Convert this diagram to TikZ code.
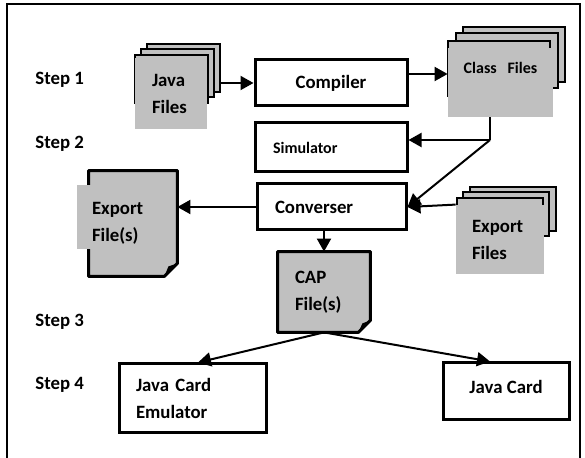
\documentclass[tikz,border=0pt]{standalone}
\usepackage{fontspec}
\setmainfont{Carlito}
\usetikzlibrary{arrows.meta}
\definecolor{sheetgray}{RGB}{192,192,192}
\newcommand{\bigtxt}{\fontsize{9.4}{13.5}\selectfont\bfseries}
\newcommand{\smalltxt}{\fontsize{8}{10}\selectfont\bfseries}
\tikzset{
  stagebox/.style={draw, line width=1.5pt, inner ysep=0pt, font=\bigtxt},
  page/.style={draw, fill=sheetgray, line width=1pt, inner sep=0pt},
  face/.style={fill=sheetgray, inner ysep=0pt, align=left, font=\bigtxt},
  docline/.style={line width=1.5pt, line join=round},
  arr/.style={-{Triangle[length=6.5pt,width=7pt]}, line width=1pt},
  link/.style={line width=1pt},
  steplabel/.style={anchor=base west, inner sep=0pt, font=\bigtxt},
}
\begin{document}
\begin{tikzpicture}[x=0.5pt, y=-0.5pt]
  \useasboundingbox (0,0) rectangle (585,458);
  \draw[line width=1.2pt] (7,470) -- (7,4) -- (580,4) -- (580,470);
  % steps
  \node[steplabel] (s1) at (35,85) {Step 1};
  \node[steplabel] (s2) at (35,149) {Step 2};
  \node[steplabel] (s3) at (35,327) {Step 3};
  \node[steplabel] (s4) at (35,390) {Step 4};
  % java files
  \node[page, minimum width=36.5pt, minimum height=24pt] (jf3) at (183.5,68) {};
  \node[page, minimum width=36.5pt, minimum height=24pt] (jf2) at (177.5,73.5) {};
  \node[page, minimum width=36.5pt, minimum height=24pt] (jf1) at (171.5,79) {};
  \node[face, text width=19pt, inner xsep=8.5pt, minimum height=35.5pt] (jf) at (171,93.5) {Java\\Files};
  % class files
  \node[page, minimum width=51pt, minimum height=27.5pt] (cf3) at (514,54.5) {};
  \node[page, minimum width=51pt, minimum height=27.5pt] (cf2) at (506.5,60.5) {};
  \node[page, minimum width=51pt, minimum height=27.5pt] (cf1) at (499,68.5) {};
  \node[face, font=\smalltxt, inner xsep=0pt, minimum width=52.5pt, minimum height=34.5pt,
    text height=6pt, text depth=15.3pt] (cf) at (500.5,82.5) {Class~~~Files};
  % export files
  \node[page, minimum width=43pt, minimum height=22pt] (ex3) at (513,209) {};
  \node[page, minimum width=43pt, minimum height=22pt] (ex2) at (506,214.5) {};
  \node[page, minimum width=43pt, minimum height=22pt] (ex1) at (499.5,220.5) {};
  \node[face, text width=28pt, inner xsep=8pt, minimum height=34.5pt] (exr) at (500,239.5) {Export\\Files};
  % stages
  \node[stagebox, minimum width=76pt, minimum height=23pt] (comp) at (331,83) {Compiler};
  \node[stagebox, font=\smalltxt, text width=58pt, inner xsep=9pt, align=left, minimum height=24.5pt] (sim) at (331,147.5) {Simulator};
  \node[stagebox, text width=56.5pt, inner xsep=9pt, align=left, minimum height=23pt] (conv) at (331.5,207) {Converser};
  % export file(s)
  \node[face, text width=41pt, inner xsep=1.5pt, minimum height=52.5pt] (ef) at (133,223.5) {Export\\File(s)};
  \fill[white] ([yshift=6.5pt]ef.south east) -- (ef.south east) -- ([xshift=-6.5pt]ef.south east) -- cycle;
  \draw[docline] (ef.north west) -- (ef.north east) -- ([yshift=6.5pt]ef.south east)
    -- ([xshift=-6.5pt]ef.south east) -- (ef.south west) -- cycle;
  \fill ([yshift=6.5pt]ef.south east) -- ([xshift=-4.5pt,yshift=5pt]ef.south east) -- ([xshift=-6.5pt]ef.south east) -- cycle;
  \fill[sheetgray] (77,185) rectangle (91,249);
  % cap file(s)
  \node[face, text width=29pt, inner xsep=8.5pt, minimum height=40pt] (cap) at (324,292) {CAP\\File(s)};
  \fill[white] ([yshift=6pt]cap.south east) -- (cap.south east) -- ([xshift=-6pt]cap.south east) -- cycle;
  \draw[docline] (cap.north west) -- (cap.north east) -- ([yshift=6pt]cap.south east)
    -- ([xshift=-6pt]cap.south east) -- (cap.south west) -- cycle;
  \fill ([yshift=6pt]cap.south east) -- ([xshift=-4pt,yshift=4.5pt]cap.south east) -- ([xshift=-6pt]cap.south east) -- cycle;
  % cards
  \node[stagebox, text width=56.5pt, inner xsep=8.5pt, align=left, minimum height=34.5pt] (emu) at (192.5,398.5) {Java Card\\Emulator};
  \node[stagebox, minimum width=63pt, minimum height=28.5pt, text depth=5pt] (jc) at (506,391.5) {Java Card};
  % connectors
  \draw[arr] (jf3.east |- comp.west) -- (comp.west);
  \coordinate (cc) at ([yshift=4.5pt]comp.east);
  \draw[arr] (cc) -- (cc -| cf.west);
  \coordinate (cfj) at (490,140);
  \draw[link] (cf.south -| cfj) -- (cfj);
  \draw[arr] (cfj) -- (cfj -| sim.east);
  \draw[arr] (cfj) -- (conv.east);
  \draw[arr] (exr.north west) -- (conv.east);
  \draw[arr] (conv.west) -- (conv.west -| ef.east);
  \draw[arr] (cap.north |- conv.south) -- (cap.north);
  \draw[arr] (cap.south) -- ([xshift=2.75pt]emu.north);
  \draw[arr] (cap.south) -- ([xshift=-8pt]jc.north);
\end{tikzpicture}
\end{document}
